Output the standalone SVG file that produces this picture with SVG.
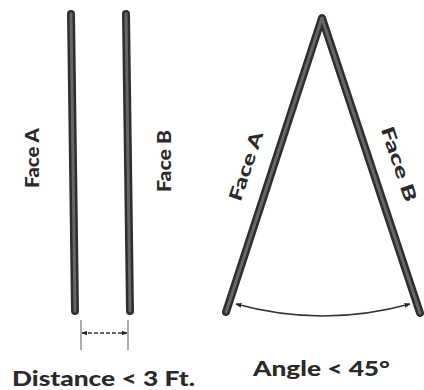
<svg xmlns="http://www.w3.org/2000/svg" width="424" height="390" viewBox="0 0 424 390">
<style>
.bar-o{fill:none;stroke:#2e2e2e;stroke-width:8;stroke-linecap:round;stroke-linejoin:round}
.bar-i{fill:none;stroke:#666;stroke-width:3;stroke-linecap:round;stroke-linejoin:round}
.lbl{font-family:Lato,"Open Sans",sans-serif;font-weight:900;fill:#2a2a2a}
.dim{fill:none;stroke:#333;stroke-width:1.4}
.tick{fill:none;stroke:#777;stroke-width:1.2}
</style>
<defs>
<marker id="ah" viewBox="0 0 10 10" refX="9" refY="5" markerWidth="6" markerHeight="6" orient="auto-start-reverse" markerUnits="userSpaceOnUse">
<path d="M0,1 L10,5 L0,9 Z" fill="#222"/>
</marker>
</defs>
<rect width="424" height="390" fill="#fff"/>
<g id="faceA-parallel">
<line class="bar-o" x1="71" y1="14" x2="75" y2="311"/>
<line class="bar-i" x1="71" y1="14" x2="75" y2="311"/>
<text class="lbl" font-size="18" text-anchor="middle" textLength="60" lengthAdjust="spacingAndGlyphs" transform="translate(38.5,158) rotate(-90)">Face A</text>
</g>
<g id="faceB-parallel">
<line class="bar-o" x1="126" y1="14" x2="130" y2="311"/>
<line class="bar-i" x1="126" y1="14" x2="130" y2="311"/>
<text class="lbl" font-size="18" text-anchor="middle" textLength="62" lengthAdjust="spacingAndGlyphs" transform="translate(171,161) rotate(-90)">Face B</text>
</g>
<g id="angle-faces">
<polyline class="bar-o" points="226,312 322,18 420,313"/>
<polyline class="bar-i" points="226,312 322,18 420,313"/>
<text class="lbl" font-size="18" text-anchor="middle" textLength="72" lengthAdjust="spacingAndGlyphs" transform="translate(252,168) rotate(-71.5)">Face A</text>
<text class="lbl" font-size="18" text-anchor="middle" textLength="78" lengthAdjust="spacingAndGlyphs" transform="translate(393,166) rotate(71.5)">Face B</text>
</g>
<g id="connectors">
<line class="tick" x1="81" y1="320" x2="81" y2="350"/>
<line class="tick" x1="128" y1="320" x2="128" y2="350"/>
<line class="dim" x1="82" y1="333" x2="127" y2="333" stroke-dasharray="4,2" marker-start="url(#ah)" marker-end="url(#ah)"/>
<path class="dim" d="M236,304 Q323,328 410,304" marker-start="url(#ah)" marker-end="url(#ah)"/>
</g>
<g id="captions">
<text class="lbl" font-size="20" x="12" y="386" textLength="183" lengthAdjust="spacingAndGlyphs">Distance &lt; 3 Ft.</text>
<text class="lbl" font-size="20" x="253" y="376" textLength="137" lengthAdjust="spacingAndGlyphs">Angle &lt; 45°</text>
</g>
</svg>
